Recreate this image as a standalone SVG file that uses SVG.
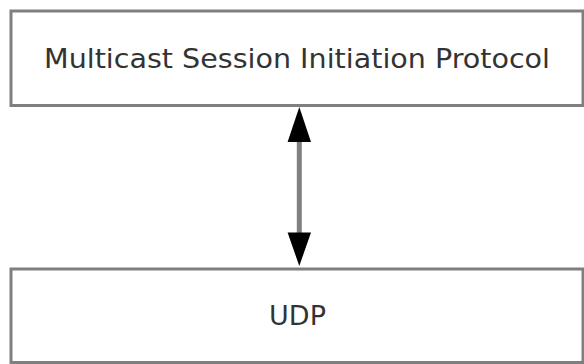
<svg xmlns="http://www.w3.org/2000/svg" width="584" height="364" viewBox="0 0 584 364">
  <defs>
    <style>
      .box { fill: #ffffff; stroke: #7f7f7f; stroke-width: 3; }
      .label { font-family: "DejaVu Sans", Verdana, sans-serif; font-size: 27px; fill: #333333; text-anchor: middle; }
      .conn { stroke: #808080; stroke-width: 5; fill: none; }
      .head { fill: #000000; }
    </style>
  </defs>
  <rect width="584" height="364" fill="#ffffff"/>
  <g id="node-msip">
    <rect class="box" x="11" y="11" width="572" height="94.5"/>
    <text class="label" x="297" y="67.5" textLength="506" lengthAdjust="spacingAndGlyphs">Multicast Session Initiation Protocol</text>
  </g>
  <g id="node-udp">
    <rect class="box" x="11" y="269" width="572" height="93.5"/>
    <text class="label" x="297.5" y="325">UDP</text>
  </g>
  <g id="connectors">
    <line class="conn" x1="299.3" y1="138" x2="299.3" y2="236"/>
    <polygon class="head" points="299.3,107 311,142 287.6,142"/>
    <polygon class="head" points="299.3,266 311,232.5 287.6,232.5"/>
  </g>
</svg>
